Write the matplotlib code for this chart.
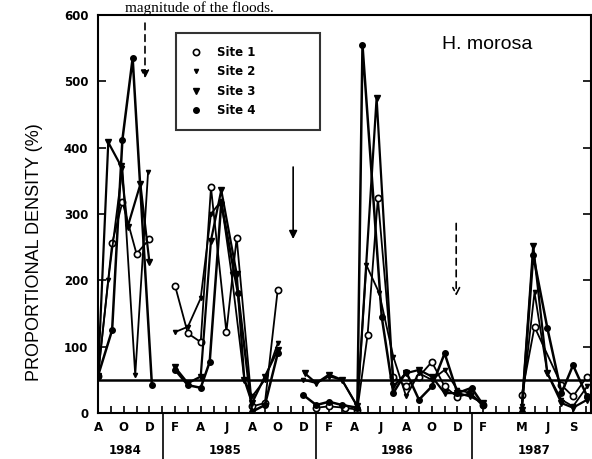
import matplotlib
matplotlib.use("Agg")
import matplotlib.pyplot as plt
from matplotlib.lines import Line2D
import numpy as np

nan = np.nan

# x = months after August 1984, nan breaks the line between sampling years
site1_months = [0, 1.1, 1.9, 3.0, 4.0, nan,
                6.0, 7.0, 8.0, 8.8, 10.0, 10.8, 12.0, 13.0, 14.0, nan,
                17.0, 18.0, 19.2, 20.2, 21.0, 21.8, 23.0, 24.0, 25.0, 26.0, 27.0, 28.0, 29.0, 30.0, nan,
                33.0, 34.0, 36.1, 37.0, 38.1]
site1_density = [56, 256, 318, 240, 262, nan,
                 192, 120, 107, 340, 122, 264, 10, 15, 186, nan,
                 8, 10, 8, 5, 118, 324, 55, 40, 55, 77, 40, 24, 30, 12, nan,
                 27, 130, 42, 25, 55]

site2_months = [0, 0.8, 1.9, 2.9, 3.9, nan,
                6.0, 7.0, 8.0, 8.8, 9.6, 10.4, 11.4, 12.0, 13.0, 14.0, nan,
                16.0, 17.0, 18.0, 19.0, 20.2, 20.9, 21.9, 23.0, 24.0, 25.0, 26.0, 27.0, 28.0, 29.0, 30.0, nan,
                33.0, 34.0, 35.0, 36.1, 37.0, 38.1]
site2_density = [56, 200, 370, 57, 363, nan,
                 122, 130, 173, 300, 320, 210, 50, 25, 50, 105, nan,
                 50, 45, 55, 50, 10, 223, 181, 85, 25, 60, 50, 65, 35, 30, 10, nan,
                 10, 182, 60, 20, 10, 40]

site3_months = [0, 0.8, 1.8, 2.3, 3.3, 4.0, nan,
                6.0, 7.0, 8.0, 8.8, 9.6, 10.8, 11.4, 12.0, 13.0, 14.0, nan,
                16.1, 17.0, 18.0, 19.0, 20.2, 21.7, 23.0, 24.0, 25.0, 26.0, 27.0, 28.0, 29.0, 30.0, nan,
                33.0, 33.9, 35.0, 36.1, 37.0, 38.1]
site3_density = [56, 408, 372, 280, 345, 228, nan,
                 69, 45, 55, 260, 336, 210, 50, 15, 55, 95, nan,
                 60, 45, 58, 50, 10, 475, 40, 60, 65, 55, 30, 30, 25, 15, nan,
                 5, 252, 60, 15, 8, 20]

site4_months = [0, 1.1, 1.9, 2.7, 4.2, nan,
                6.0, 7.0, 8.0, 8.7, 9.6, 10.9, 12.0, 13.0, 14.0, nan,
                16.0, 17.0, 18.0, 19.0, 20.2, 20.6, 22.1, 23.0, 24.0, 25.0, 26.0, 27.0, 28.0, 29.1, 30.0, nan,
                33.0, 33.9, 35.0, 36.1, 37.0, 38.1]
site4_density = [56, 125, 412, 535, 42, nan,
                 65, 42, 38, 77, 317, 181, 2, 12, 90, nan,
                 27, 12, 17, 12, 8, 555, 145, 30, 62, 20, 40, 90, 30, 38, 12, nan,
                 2, 238, 128, 30, 72, 25]

month_ticks = [0, 2, 4, 6, 8, 10, 12, 14, 16, 18, 20, 22, 24, 26, 28, 30, 33, 35, 37]
month_labels = ["A", "O", "D", "F", "A", "J", "A", "O", "D", "F", "A", "J", "A", "O", "D", "F", "M", "J", "S"]
years = ["1984", "1985", "1986", "1987"]
year_centres = [2.1, 9.9, 23.3, 34.0]
year_breaks = [5.1, 17.0, 29.1]

fig = plt.figure(figsize=(5.92, 4.59), dpi=100)
ax = fig.add_axes([98 / 592, 46 / 459, 493 / 592, 398 / 459])

ax.plot(site1_months, site1_density, "k-", lw=1.3, marker="o", ms=4.5, mfc="white", mew=1.2)
ax.plot(site2_months, site2_density, "k-", lw=1.3, marker="v", ms=3)
ax.plot(site3_months, site3_density, "k-", lw=1.6, marker="v", ms=5)
ax.plot(site4_months, site4_density, "k-", lw=1.8, marker="o", ms=4)

ax.axhline(50, color="black", lw=1.8)

ax.set_xlim(0, 38.4)
ax.set_ylim(0, 600)
ax.set_xticks(month_ticks)
ax.set_xticklabels(month_labels, fontweight="bold", fontsize=8.5)
ax.set_xticks(range(0, 39), minor=True)
ax.set_yticks(range(0, 601, 100))
ax.set_yticklabels([str(v) for v in range(0, 601, 100)], fontweight="bold", fontsize=8.5)
ax.tick_params(axis="x", which="both", direction="in", length=5, width=1.2, pad=6)
ax.tick_params(axis="y", direction="in", length=6, width=1.2, pad=7, right=True)
for s in ax.spines.values():
    s.set_linewidth(1.5)

# year separators and labels under the axis
trans = ax.get_xaxis_transform()
for b in year_breaks:
    ax.plot([b, b], [0, -0.12], color="black", lw=1.2, transform=trans, clip_on=False)
for c, y in zip(year_centres, years):
    ax.text(c, -0.093, y, transform=trans, ha="center", va="center", fontweight="bold", fontsize=8.5)

# flood arrows
ax.annotate("", xy=(3.66, 500), xytext=(3.66, 592),
            arrowprops=dict(arrowstyle="-|>", color="black", lw=1.2, linestyle=(0, (4, 3)), mutation_scale=12))
ax.annotate("", xy=(15.2, 258), xytext=(15.2, 375),
            arrowprops=dict(arrowstyle="-|>", color="black", lw=1.2, mutation_scale=12))
ax.annotate("", xy=(27.9, 172), xytext=(27.9, 290),
            arrowprops=dict(arrowstyle="->", color="black", lw=1.2, linestyle=(0, (4, 3)), mutation_scale=12))

ax.text(30.3, 556, "H. morosa", ha="center", va="center", fontsize=14, family="Liberation Sans")

handles = [Line2D([], [], color="black", ls="none", marker="o", ms=4.5, mfc="white", mew=1.2),
           Line2D([], [], color="black", ls="none", marker="v", ms=3),
           Line2D([], [], color="black", ls="none", marker="v", ms=5),
           Line2D([], [], color="black", ls="none", marker="o", ms=4)]
leg = ax.legend(handles, ["Site 1", "Site 2", "Site 3", "Site 4"],
                loc="upper left", bbox_to_anchor=(0.158, 0.955, 0.292, 0.0), mode="expand",
                prop=dict(weight="bold", size=8.5), frameon=True, fancybox=False,
                edgecolor="black", borderpad=1.1, labelspacing=0.55, handlelength=1.2,
                handletextpad=1.2, borderaxespad=0)
leg.get_frame().set_linewidth(1.5)

fig.text(35 / 592, 1 - 252 / 459, "PROPORTIONAL DENSITY (%)", rotation=90, ha="center", va="center",
         fontsize=13, family="Liberation Sans")
fig.text(125 / 592, 1 - 12 / 459, "magnitude of the floods.", ha="left", va="baseline",
         fontsize=11, family="Liberation Serif")

fig.savefig("out.png", dpi=100)
